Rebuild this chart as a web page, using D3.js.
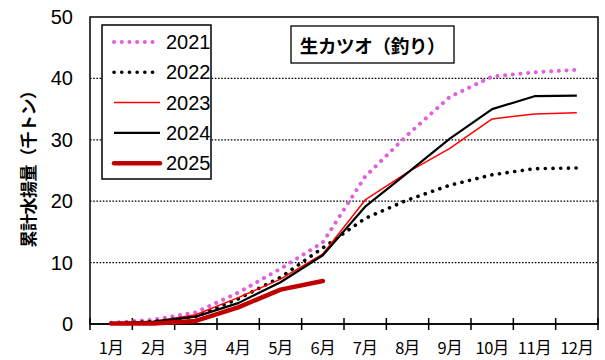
<!DOCTYPE html>
<html>
<head>
<meta charset="utf-8">
<script src="https://cdn.jsdelivr.net/npm/d3@7/dist/d3.min.js"></script>
<style>
  html, body { margin: 0; padding: 0; background: #fff; overflow: hidden; }
  svg { display: block; }
</style>
</head>
<body>
<script>
"use strict";

// months on the category axis
const MONTHS = ["1月", "2月", "3月", "4月", "5月", "6月", "7月", "8月", "9月", "10月", "11月", "12月"];
const Y_TICKS = [0, 10, 20, 30, 40, 50];

// cumulative landings (thousand tonnes)
const Y2021 = [0.2, 0.7, 1.9, 5.1, 9.0, 13.3, 24.0, 30.8, 37.0, 40.3, 41.0, 41.4];
const Y2022 = [0.1, 0.4, 1.2, 4.1, 7.6, 12.4, 17.2, 20.2, 22.6, 24.3, 25.3, 25.4];
const Y2023 = [0.1, 0.4, 1.5, 4.3, 7.3, 11.4, 20.2, 24.7, 28.6, 33.4, 34.2, 34.4];
const Y2024 = [0.1, 0.4, 1.2, 3.4, 6.8, 11.2, 19.1, 24.6, 30.2, 35.0, 37.1, 37.2];
const Y2025 = [0.1, 0.1, 0.5, 2.7, 5.6, 7.0];

const SERIES = [
  { name: "2021", values: Y2021, color: "#e060e0", width: 4,   dash: "0.1 7.6", cap: "round" },
  { name: "2022", values: Y2022, color: "#000000", width: 3.6, dash: "0.1 7.6", cap: "round" },
  { name: "2023", values: Y2023, color: "#ff0000", width: 1.5, dash: null, cap: "butt" },
  { name: "2024", values: Y2024, color: "#000000", width: 2.2, dash: null, cap: "butt" },
  { name: "2025", values: Y2025, color: "#c00000", width: 4.5, dash: null, cap: "round" }
];

const WIDTH = 605, HEIGHT = 360;
const PLOT = { left: 90, right: 598, top: 17, bottom: 324 };
const NUM_FONT = "'Liberation Sans Narrow', 'Liberation Sans', Arial, sans-serif";
const JP_FONT = "'Noto Sans CJK JP', sans-serif";

const svg = d3.select("body").append("svg")
  .attr("width", WIDTH)
  .attr("height", HEIGHT);

const x = d3.scaleBand().domain(MONTHS).range([PLOT.left, PLOT.right]).padding(0);
const y = d3.scaleLinear().domain([0, 50]).range([PLOT.bottom, PLOT.top]);
const cx = i => x(MONTHS[i]) + x.bandwidth() / 2;

// dotted gridlines
svg.append("g")
  .selectAll("line")
  .data(Y_TICKS.filter(v => v > 0 && v < 50))
  .join("line")
  .attr("x1", PLOT.left).attr("x2", PLOT.right)
  .attr("y1", d => y(d)).attr("y2", d => y(d))
  .attr("stroke", "#000")
  .attr("stroke-width", 1.3)
  .attr("stroke-dasharray", "1.6 1.6");

// plot frame
svg.append("rect")
  .attr("x", PLOT.left).attr("y", PLOT.top)
  .attr("width", PLOT.right - PLOT.left).attr("height", PLOT.bottom - PLOT.top)
  .attr("fill", "none").attr("stroke", "#000").attr("stroke-width", 1.5);

// y axis labels
const yAxis = svg.append("g")
  .attr("transform", `translate(${PLOT.left},0)`)
  .call(d3.axisLeft(y).tickValues(Y_TICKS).tickSize(0).tickPadding(17));
yAxis.select(".domain").remove();
yAxis.selectAll("text")
  .attr("font-family", NUM_FONT)
  .attr("font-size", 20)
  .attr("fill", "#000");

// x axis: crossing ticks on band edges, labels in band centres
const xAxis = svg.append("g")
  .attr("transform", `translate(0,${PLOT.bottom})`)
  .call(d3.axisBottom(x).tickSize(0).tickPadding(18));
xAxis.select(".domain").remove();
xAxis.selectAll("text")
  .attr("font-family", JP_FONT)
  .attr("font-size", 16.5)
  .attr("letter-spacing", "-0.5")
  .attr("fill", "#000");

svg.append("line")
  .attr("x1", PLOT.left).attr("x2", PLOT.right)
  .attr("y1", PLOT.bottom).attr("y2", PLOT.bottom)
  .attr("stroke", "#000").attr("stroke-width", 1.5);

svg.append("g")
  .selectAll("line")
  .data(MONTHS.map(m => x(m)).concat([x.range()[1]]))
  .join("line")
  .attr("x1", d => d).attr("x2", d => d)
  .attr("y1", PLOT.bottom - 6).attr("y2", PLOT.bottom + 6)
  .attr("stroke", "#000").attr("stroke-width", 1.5);

// y axis title
svg.append("text")
  .attr("transform", "translate(27,165) rotate(-90)")
  .attr("text-anchor", "middle")
  .attr("dominant-baseline", "central")
  .attr("font-family", JP_FONT)
  .attr("font-weight", "bold")
  .attr("font-size", 17)
  .attr("letter-spacing", "-0.5")
  .text("累計水揚量（千トン）");

// series lines
const line = d3.line()
  .x((d, i) => cx(i))
  .y(d => y(d));

svg.append("g")
  .selectAll("path")
  .data(SERIES)
  .join("path")
  .attr("d", d => line(d.values))
  .attr("fill", "none")
  .attr("stroke", d => d.color)
  .attr("stroke-width", d => d.width)
  .attr("stroke-linecap", d => d.cap)
  .attr("stroke-linejoin", "round")
  .attr("stroke-dasharray", d => d.dash);

// legend
const legend = svg.append("g");
legend.append("rect")
  .attr("x", 102).attr("y", 25)
  .attr("width", 109).attr("height", 154)
  .attr("fill", "#fff").attr("stroke", "#000").attr("stroke-width", 1.5);

const items = legend.selectAll("g")
  .data(SERIES)
  .join("g")
  .attr("transform", (d, i) => `translate(0,${42 + i * 30.3})`);

items.append("line")
  .attr("x1", 114).attr("x2", 160)
  .attr("y1", 0).attr("y2", 0)
  .attr("stroke", d => d.color)
  .attr("stroke-width", d => d.width)
  .attr("stroke-linecap", d => d.cap)
  .attr("stroke-dasharray", d => d.dash);

items.append("text")
  .attr("x", 166)
  .attr("y", 0)
  .attr("dominant-baseline", "central")
  .attr("font-family", NUM_FONT)
  .attr("font-size", 20)
  .text(d => d.name);

// title box
const title = svg.append("g");
title.append("rect")
  .attr("x", 291).attr("y", 26)
  .attr("width", 163).attr("height", 37)
  .attr("fill", "#fff").attr("stroke", "#000").attr("stroke-width", 1.3);
title.append("text")
  .attr("x", 372.5).attr("y", 45)
  .attr("text-anchor", "middle")
  .attr("dominant-baseline", "central")
  .attr("font-family", JP_FONT)
  .attr("font-weight", "bold")
  .attr("font-size", 18.5)
  .attr("letter-spacing", "-0.3")
  .text("生カツオ（釣り）");
</script>
</body>
</html>
